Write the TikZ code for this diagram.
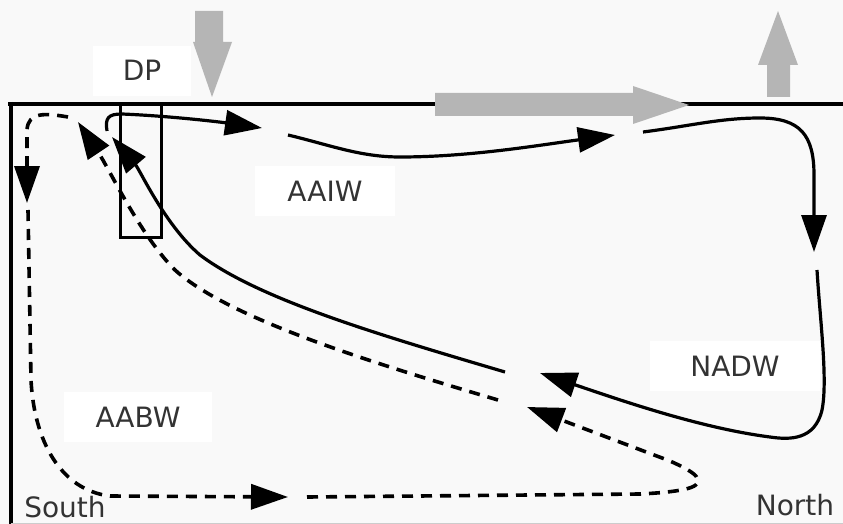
\documentclass[tikz,border=0pt]{standalone}
\usepackage{fontspec}
\setmainfont{DejaVu Sans}
\usetikzlibrary{arrows.meta}
\definecolor{bgc}{HTML}{F9F9F9}
\definecolor{arrowgrey}{HTML}{B5B5B5}
\definecolor{txt}{HTML}{333333}
\begin{document}
\begin{tikzpicture}[x=1pt,y=-1pt,
  lbl/.style={fill=white, text=txt, font=\fontsize{28}{30}\selectfont, inner xsep=32pt, inner ysep=15pt, anchor=base},
  flow/.style={line width=3.2pt, -{Triangle[length=37pt,width=25pt]}},
  dflow/.style={flow, line width=3.6pt, dash pattern=on 11pt off 8pt},
  frame/.style={line width=4pt},
  bigarrow/.style={fill=arrowgrey, draw=none}]
\fill[bgc] (0,0) rectangle (843,524);
\useasboundingbox (0,0) rectangle (843,524);
% labels
\node[lbl, inner xsep=30pt] (dp) at (142,81) {DP};
\node[lbl] (aaiw) at (325,201) {AAIW};
\node[lbl] (aabw) at (138,427) {AABW};
\node[lbl, inner xsep=40pt] (nadw) at (735,376) {NADW};
\node[lbl, fill=none] (south) at (65,517) {South};
\node[lbl, fill=none] (north) at (795,515) {North};
% frame
\coordinate (tl) at (8,104);
\coordinate (tr) at (843,104);
\coordinate (lt) at (11,102);
\coordinate (lb) at (11,524);
\draw[frame] (tl) -- (tr);
\draw[frame] (lt) -- (lb);
\draw[line width=1pt, black!20] (11,523) -- (843,523);
\node[draw, line width=2.5pt, minimum width=41pt, minimum height=132pt, inner sep=0pt, anchor=north west] (dpbox) at (119,104) {};
% grey arrows
\fill[bigarrow] (195,11) -- (223,11) -- (223,42) -- (232,42) -- (212,97) -- (193,42) -- (195,42) -- cycle;
\fill[bigarrow] (435,93) -- (633,93) -- (633,86) -- (689,105) -- (633,124) -- (633,116) -- (435,116) -- cycle;
\fill[bigarrow] (767,97) -- (790,97) -- (790,65) -- (798,65) -- (778,11) -- (758,65) -- (767,65) -- cycle;
% solid loop
\coordinate (s1a) at (107,131);
\coordinate (s1b) at (262,128);
\coordinate (s2a) at (288,135);
\coordinate (s2b) at (615,135);
\coordinate (s3a) at (643,132);
\coordinate (s3b) at (814,252);
\coordinate (s4a) at (817,270);
\coordinate (s4b) at (540,373);
\coordinate (s5a) at (505,372);
\coordinate (s5b) at (112,137);
\draw[flow] (s1a) .. controls (105,118) and (108,114) .. (122,114) .. controls (170,116) and (220,122) .. (s1b);
\draw[flow] (s2a) .. controls (330,145) and (360,157) .. (400,157) .. controls (470,157) and (540,145) .. (s2b);
\draw[flow] (s3a) .. controls (690,126) and (720,118) .. (760,118) .. controls (800,118) and (814,135) .. (814,175) -- (s3b);
\draw[flow] (s4a) .. controls (820,320) and (828,380) .. (822,410) .. controls (815,440) and (790,440) .. (770,437) .. controls (700,428) and (620,400) .. (s4b);
\draw[flow] (s5a) .. controls (380,335) and (260,300) .. (200,255) .. controls (165,225) and (140,170) .. (s5b);
% dashed loop
\coordinate (d1a) at (68,117);
\coordinate (d1b) at (27,203);
\coordinate (d2a) at (28,210);
\coordinate (d2b) at (288,497);
\coordinate (d3a) at (307,497);
\coordinate (d3b) at (527,407);
\coordinate (d4a) at (498,400);
\coordinate (d4b) at (78,122);
\draw[dflow] (d1a) .. controls (45,113) and (28,112) .. (27,130) -- (d1b);
\draw[dflow] (d2a) -- (31,380) .. controls (34,440) and (60,490) .. (110,496) -- (d2b);
\draw[dflow] (d3a) -- (640,494) .. controls (680,492) and (700,488) .. (698,480) .. controls (697,475) and (690,470) .. (670,461) -- (d3b);
\draw[dflow] (d4a) .. controls (380,365) and (230,320) .. (175,270) .. controls (140,235) and (110,170) .. (d4b);
\end{tikzpicture}
\end{document}
